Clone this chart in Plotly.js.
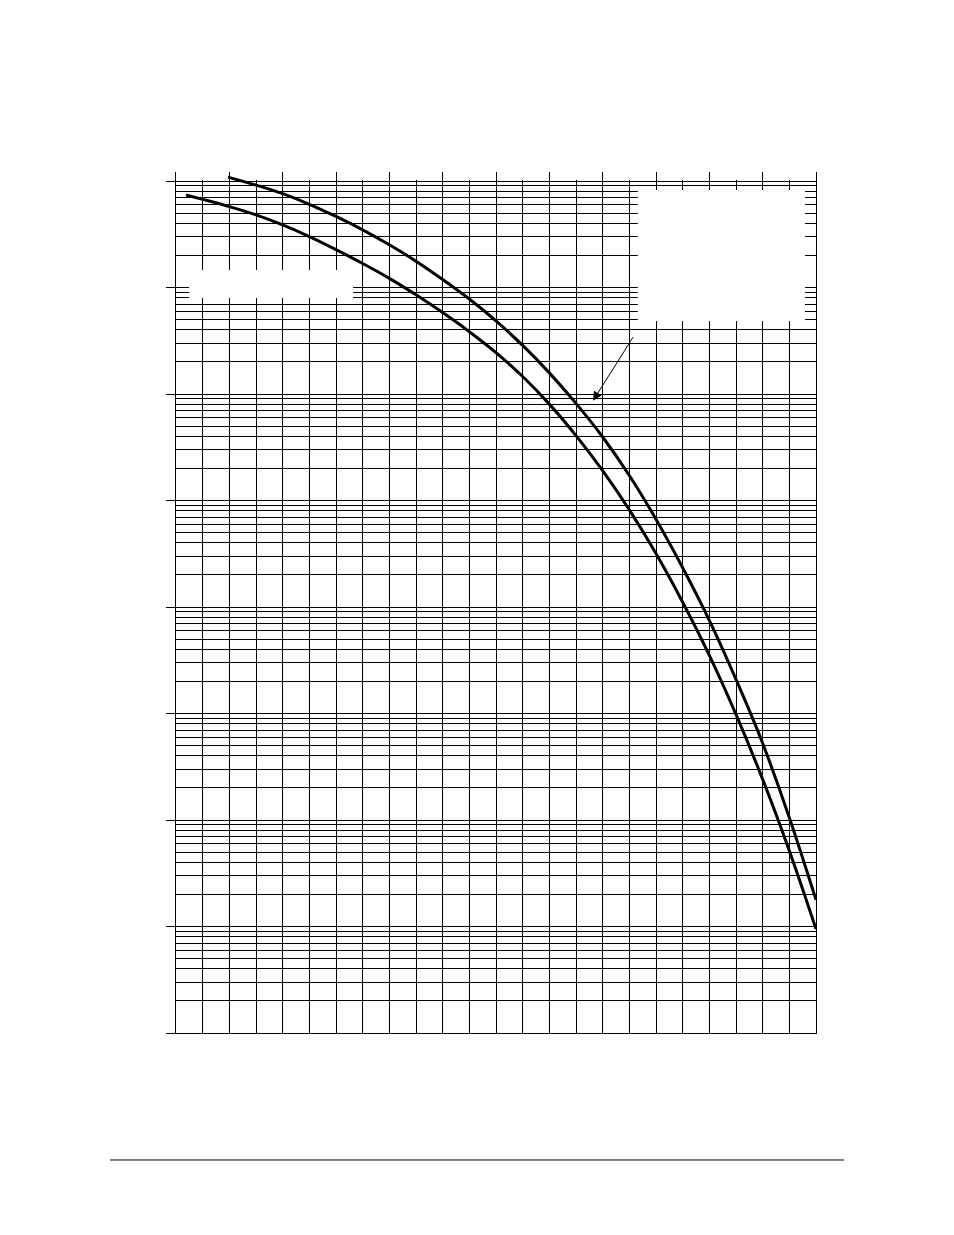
<!DOCTYPE html>
<html>
<head>
<meta charset="utf-8">
<script src="https://cdn.plot.ly/plotly-3.0.1.min.js"></script>
<style>
  html, body { margin: 0; padding: 0; background: #fff; }
  #chart { width: 954px; height: 1235px; }
</style>
</head>
<body>
<div id="chart"></div>
<script>
// grid units along x (24 divisions), values
var x_upper = [1.95, 3, 4, 5, 6, 7, 8, 9, 10, 11, 12, 13, 14, 15, 16, 17, 18, 19, 20, 21, 22, 23, 24];
var y_upper = [1.09e8, 9.16e7, 7.62e7, 6.05e7, 4.65e7, 3.48e7, 2.52e7, 1.77e7, 1.19e7, 7.80e6,
               4.86e6, 2.86e6, 1.58e6, 8.17e5, 3.95e5, 1.72e5, 6.68e4, 2.34e4, 7.50e3, 2.09e3,
               525, 105, 17.8];

var x_lower = [0.375, 1, 2, 3, 4, 5, 6, 7, 8, 9, 10, 11, 12, 13, 14, 15, 16, 17, 18, 19, 20, 21, 22, 23, 24];
var y_lower = [7.40e7, 6.73e7, 5.75e7, 4.81e7, 3.87e7, 3.01e7, 2.27e7, 1.68e7, 1.22e7, 8.55e6,
               5.82e6, 3.85e6, 2.45e6, 1.46e6, 8.04e5, 4.07e5, 1.91e5, 8.17e4, 3.18e4, 1.11e4,
               3.52e3, 982, 241, 51.5, 9.48];

// odd grid lines stop at the top decade line
var short_lines = [1, 3, 5, 7, 9, 11, 13, 15, 17, 19, 21, 23];

var upper = {
    x: x_upper,
    y: y_upper,
    type: "scatter",
    mode: "lines",
    line: { color: "#000", width: 3, shape: "spline", smoothing: 1 },
    hoverinfo: "skip"
};
var lower = {
    x: x_lower,
    y: y_lower,
    type: "scatter",
    mode: "lines",
    line: { color: "#000", width: 3, shape: "spline", smoothing: 1 },
    hoverinfo: "skip"
};

var shapes = [
    // blank label box, upper left
    { type: "rect", xref: "paper", yref: "paper", x0: 0.0203, x1: 0.2766, y0: 0.8537, y1: 0.8862,
      fillcolor: "#fff", line: { width: 0 }, layer: "above" },
    // blank legend box, upper right
    { type: "rect", xref: "paper", yref: "paper", x0: 0.7215, x1: 0.9828, y0: 0.8269, y1: 0.9791,
      fillcolor: "#fff", line: { width: 0 }, layer: "above" },
    // footer rule
    { type: "line", xref: "paper", yref: "paper", x0: -0.1031, x1: 1.0437, y0: -0.1475, y1: -0.1475,
      line: { color: "#000", width: 1 } }
];
short_lines.forEach(function(u) {
    shapes.push({ type: "rect", xref: "x", yref: "paper", x0: u - 0.15, x1: u + 0.15, y0: 0.9907, y1: 1.002,
                  fillcolor: "#fff", line: { width: 0 }, layer: "above" });
});

var layout = {
    width: 954,
    height: 1235,
    showlegend: false,
    paper_bgcolor: "#fff",
    plot_bgcolor: "#fff",
    margin: { l: 176, r: 138, t: 172, b: 202, pad: 0 },
    xaxis: {
        range: [0, 24],
        dtick: 1,
        showgrid: true,
        gridcolor: "#000",
        gridwidth: 1,
        zeroline: false,
        showline: true,
        linecolor: "#000",
        linewidth: 1,
        ticks: "",
        showticklabels: false,
        fixedrange: true
    },
    yaxis: {
        type: "log",
        range: [0, 8.085],
        dtick: 1,
        showgrid: true,
        gridcolor: "#000",
        gridwidth: 1,
        minor: { dtick: "D1", showgrid: true, gridcolor: "#000", gridwidth: 1, ticks: "" },
        zeroline: false,
        showline: true,
        mirror: true,
        linecolor: "#000",
        linewidth: 1,
        ticks: "outside",
        ticklen: 9,
        tickwidth: 1,
        tickcolor: "#000",
        showticklabels: false,
        fixedrange: true
    },
    shapes: shapes,
    annotations: [
        { xref: "paper", yref: "paper", x: 0.6516, y: 0.7344, text: "",
          showarrow: true, arrowhead: 2, arrowsize: 1.8, arrowwidth: 1, arrowcolor: "#000",
          ax: 41, ay: -65, standoff: 0, startstandoff: 0 }
    ]
};

Plotly.newPlot("chart", [lower, upper], layout, { displayModeBar: false, staticPlot: true });
</script>
</body>
</html>
